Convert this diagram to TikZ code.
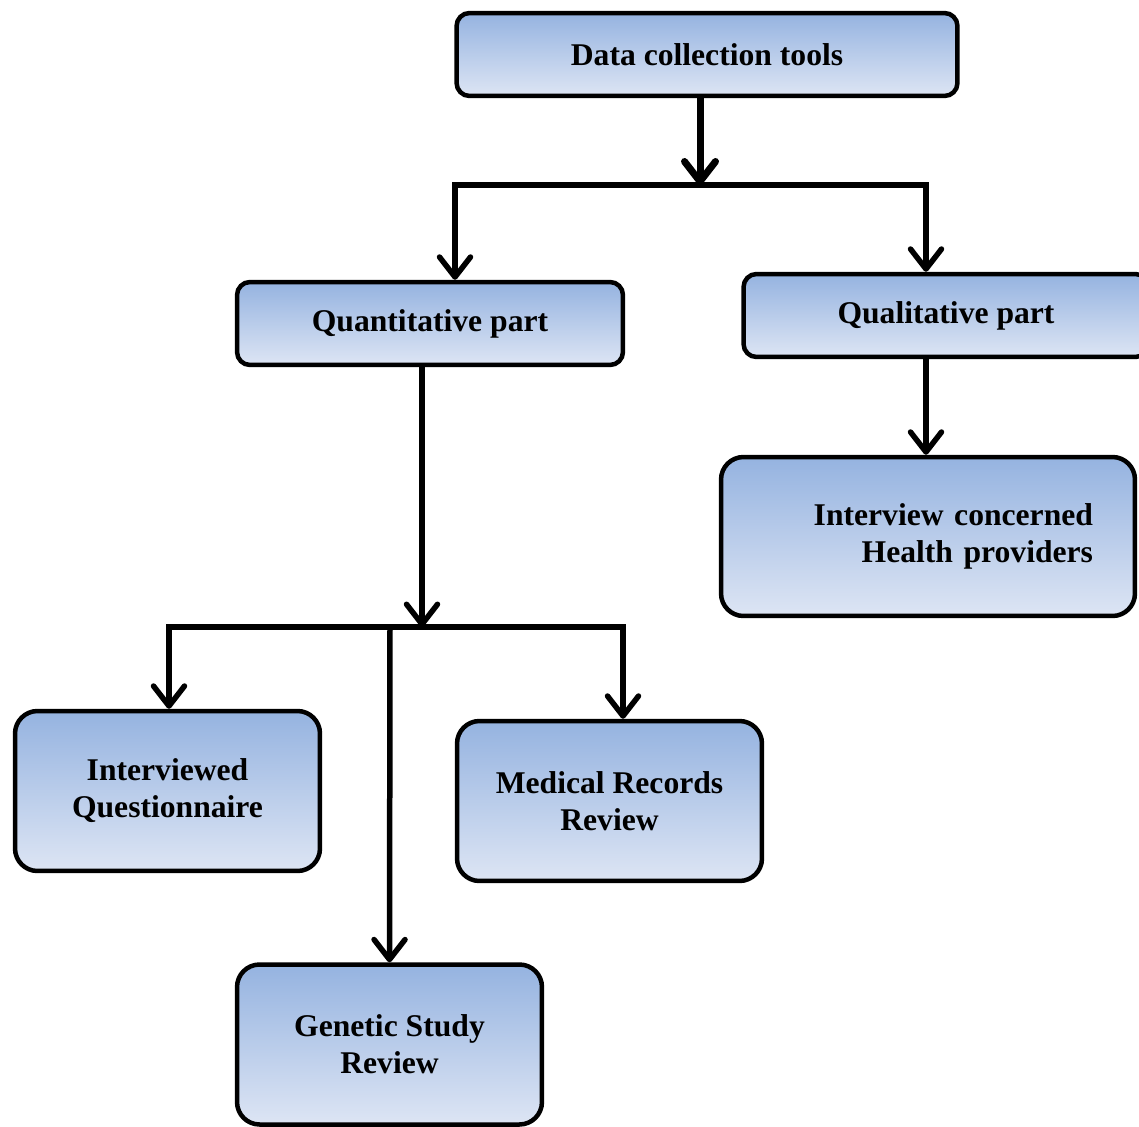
\documentclass[tikz,border=0pt]{standalone}
\usepackage{fontspec}
\setmainfont{Liberation Serif}
\usetikzlibrary{arrows.meta}
\definecolor{boxtop}{RGB}{149,179,224}
\definecolor{boxbot}{RGB}{221,229,244}

\begin{document}
\begin{tikzpicture}[x = 0.02cm, y = -0.02cm,
    Box/.style = {rectangle, draw = black, line width = 0.09cm, top color = boxtop, bottom color = boxbot, font = \fontsize{18}{21}\selectfont\bfseries, align = center, inner sep = 0pt},
    Flat/.style = {Box, rounded corners = 0.26cm, minimum height = 1.66cm},
    Tall/.style = {Box, rounded corners = 0.45cm, minimum height = 3.2cm},
    Link/.style = {line width = 0.11cm, -{Straight Barb[length = 0.4cm, width = 0.62cm, round]}},
    Bar/.style = {line width = 0.11cm, line cap = rect}]
        \useasboundingbox (0,0) rectangle (1139,1126);
        \node [Flat, minimum width = 10.02cm] (tools) at (707,54.5) {Data collection tools};
        \node [Flat, minimum width = 8.1cm] (qual) at (946,315.5) {Qualitative part};
        \node [Flat, minimum width = 7.72cm] (quant) at (430,323.5) {Quantitative part};
        \node [Tall, minimum width = 8.28cm, minimum height = 3.18cm, text width = 6.6cm, align = right] (health) at (928,536.5) {Interview concerned\hspace*{0.18cm}\\Health providers};
        \node [Tall, minimum width = 6.1cm] (quest) at (167.5,791) {Interviewed\\Questionnaire};
        \node [Tall, minimum width = 6.1cm] (medical) at (609.5,801) {Medical Records\\Review};
        \node [Tall, minimum width = 6.1cm] (genetic) at (389.5,1044.5) {Genetic Study\\Review};
        % first split
        \coordinate (split) at (700,185);
        \coordinate (splitL) at (455,185);
        \coordinate (splitR) at (926,185);
        \draw [Link, line width = 0.14cm] (tools.south -| split) -- (split);
        \draw [Bar] (splitL) -- (splitR);
        \draw [Link] (splitL) -- (quant.north -| splitL);
        \draw [Link] (splitR) -- (qual.north -| splitR);
        \draw [Link] (qual.south -| splitR) -- (health.north -| splitR);
        % second split
        \coordinate (fork) at (422,627);
        \coordinate (forkL) at (169,627);
        \coordinate (forkM) at (390,627);
        \coordinate (forkR) at (623,627);
        \draw [Link] (quant.south -| fork) -- (fork);
        \draw [Bar] (forkL) -- (forkR);
        \draw [Link] (forkL) -- (quest.north -| forkL);
        \draw [Link] (forkM) -- (genetic.north);
        \draw [Link] (forkR) -- (medical.north -| forkR);
\end{tikzpicture}
\end{document}
